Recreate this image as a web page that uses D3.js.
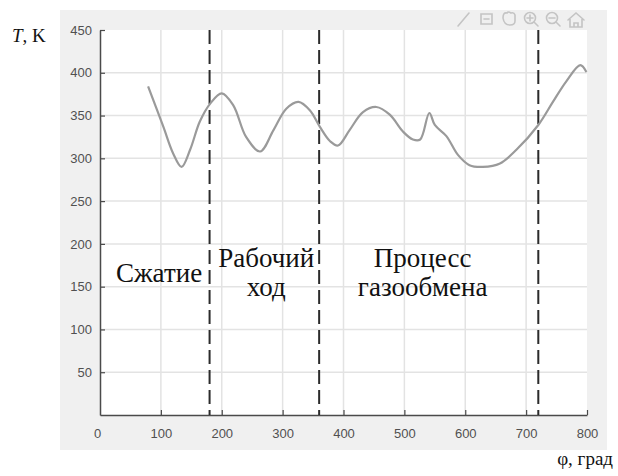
<!DOCTYPE html>
<html>
<head>
<meta charset="utf-8">
<script src="https://cdn.jsdelivr.net/npm/d3@7"></script>
<style>
  body { margin: 0; background: #fff; }
  svg { display: block; }
  .serif { font-family: 'Liberation Serif', 'Times New Roman', serif; }
</style>
</head>
<body>
<svg id="chart" width="618" height="476"></svg>
<script>
(function() {
  'use strict';

  // crank angle, deg / temperature, K
  var phi = [79, 104, 120, 134, 148, 164, 181, 200, 219, 240, 263, 285, 306, 326, 345, 361,
    378, 391, 410, 432, 454, 476, 498, 514, 526, 541, 550, 569, 588, 607, 629, 657, 684,
    720, 744, 766, 789, 799];
  var temp = [384, 337, 306, 290, 310, 343, 364, 376, 362, 325, 308, 333, 358, 366, 356, 337,
    320, 315, 333, 354, 360, 351, 331, 322, 322, 353, 339, 326, 304, 292, 290, 294, 310,
    339, 366, 390, 409, 401];

  var xTicks = [0, 100, 200, 300, 400, 500, 600, 700, 800];
  var yTicks = [50, 100, 150, 200, 250, 300, 350, 400, 450];
  var strokeBounds = [180, 360, 720];
  var phases = [
    { x: 97, lines: ['Сжатие'] },
    { x: 273, lines: ['Рабочий', 'ход'] },
    { x: 530, lines: ['Процесс', 'газообмена'] }
  ];

  var svg = d3.select('#chart');
  var m = { left: 100, top: 30, right: 587, bottom: 415 };

  var x = d3.scaleLinear().domain([0, 800]).range([m.left, m.right]);
  var y = d3.scaleLinear().domain([0, 450]).range([m.bottom, m.top]);

  // figure background (matlab-ish grey frame)
  svg.append('rect')
    .attr('x', 60).attr('y', 10)
    .attr('width', 547).attr('height', 440)
    .attr('fill', '#f0f0f0');

  svg.append('rect')
    .attr('x', m.left).attr('y', m.top)
    .attr('width', m.right - m.left).attr('height', m.bottom - m.top)
    .attr('fill', '#fff');

  // grid
  svg.append('g')
    .selectAll('line')
    .data(xTicks.slice(1, -1))
    .join('line')
    .attr('x1', function(d) { return x(d); })
    .attr('x2', function(d) { return x(d); })
    .attr('y1', m.top).attr('y2', m.bottom)
    .attr('stroke', '#e3e3e3').attr('stroke-width', 1.5);

  svg.append('g')
    .selectAll('line')
    .data(yTicks.slice(0, -1))
    .join('line')
    .attr('x1', m.left).attr('x2', m.right)
    .attr('y1', function(d) { return y(d); })
    .attr('y2', function(d) { return y(d); })
    .attr('stroke', '#e3e3e3').attr('stroke-width', 1.5);

  // axes
  var xAxis = d3.axisBottom(x).tickValues(xTicks).tickSizeInner(-5).tickSizeOuter(0).tickPadding(14);
  var yAxis = d3.axisLeft(y).tickValues(yTicks).tickSizeInner(-5).tickSizeOuter(0).tickPadding(8);

  var gx = svg.append('g').attr('transform', 'translate(0,' + m.bottom + ')').call(xAxis);
  var gy = svg.append('g').attr('transform', 'translate(' + m.left + ',0)').call(yAxis);

  [gx, gy].forEach(function(g) {
    g.attr('font-family', 'Arial, "Liberation Sans", sans-serif').attr('font-size', 13);
    g.select('.domain').attr('stroke', '#4a4a4a').attr('stroke-width', 1.5);
    g.selectAll('.tick line').attr('stroke', '#4a4a4a').attr('stroke-width', 1.2);
    g.selectAll('.tick text').attr('fill', '#505050');
  });
  // matlab puts the zero label a bit left of the axis line
  gx.selectAll('.tick').filter(function(d) { return d === 0; }).select('line').remove();
  gx.selectAll('.tick').filter(function(d) { return d === 0; }).select('text').attr('x', -3);

  // stroke boundaries
  svg.append('g')
    .selectAll('line')
    .data(strokeBounds)
    .join('line')
    .attr('x1', function(d) { return x(d); })
    .attr('x2', function(d) { return x(d); })
    .attr('y1', m.top).attr('y2', m.bottom)
    .attr('stroke', '#2b2b2b').attr('stroke-width', 2)
    .attr('stroke-dasharray', '14,6');

  // temperature curve
  var line = d3.line()
    .x(function(d, i) { return x(phi[i]); })
    .y(function(d) { return y(d); })
    .curve(d3.curveCatmullRom.alpha(0.5));

  svg.append('path')
    .datum(temp)
    .attr('d', line)
    .attr('fill', 'none')
    .attr('stroke', '#9a9a9a')
    .attr('stroke-width', 2.2);

  // phase labels
  phases.forEach(function(p) {
    var t = svg.append('text')
      .attr('class', 'serif')
      .attr('text-anchor', 'middle')
      .attr('fill', '#111')
      .attr('font-size', 27);
    p.lines.forEach(function(s, i) {
      t.append('tspan')
        .attr('x', x(p.x))
        .attr('y', (p.lines.length === 1 ? 282 : 267) + i * 29)
        .text(s);
    });
  });

  // axis titles
  var ty = svg.append('text')
    .attr('class', 'serif')
    .attr('x', 12).attr('y', 42)
    .attr('fill', '#111')
    .attr('font-size', 19);
  ty.append('tspan').attr('font-style', 'italic').text('T');
  ty.append('tspan').text(', K');

  svg.append('text')
    .attr('class', 'serif')
    .attr('x', 613).attr('y', 465)
    .attr('text-anchor', 'end')
    .attr('fill', '#111')
    .attr('font-size', 19)
    .text('φ, град');

  // toolbar icons, very faint
  var tb = svg.append('g')
    .attr('fill', 'none')
    .attr('stroke', '#c4c4c4')
    .attr('stroke-width', 1.6)
    .attr('stroke-linecap', 'round');
  tb.append('path').attr('d', 'M458,26 L469,13');
  tb.append('path').attr('d', 'M481,14 h11 v10 h-11 z M484,19 h5');
  tb.append('path').attr('d', 'M503,18 q0,-6 4,-5 q1,-2 4,0 q3,-1 4,2 v6 q0,4 -5,4 q-6,0 -7,-7');
  tb.append('circle').attr('cx', 530).attr('cy', 18).attr('r', 5.5);
  tb.append('path').attr('d', 'M534,22 l4,4 M527,18 h6 M530,15 v6');
  tb.append('circle').attr('cx', 552).attr('cy', 18).attr('r', 5.5);
  tb.append('path').attr('d', 'M556,22 l4,4 M549,18 h6');
  tb.append('path').attr('d', 'M568,20 l8,-7 l8,7 M570,19 v8 h12 v-8 M574,27 v-4 h4 v4');
})();
</script>
</body>
</html>
